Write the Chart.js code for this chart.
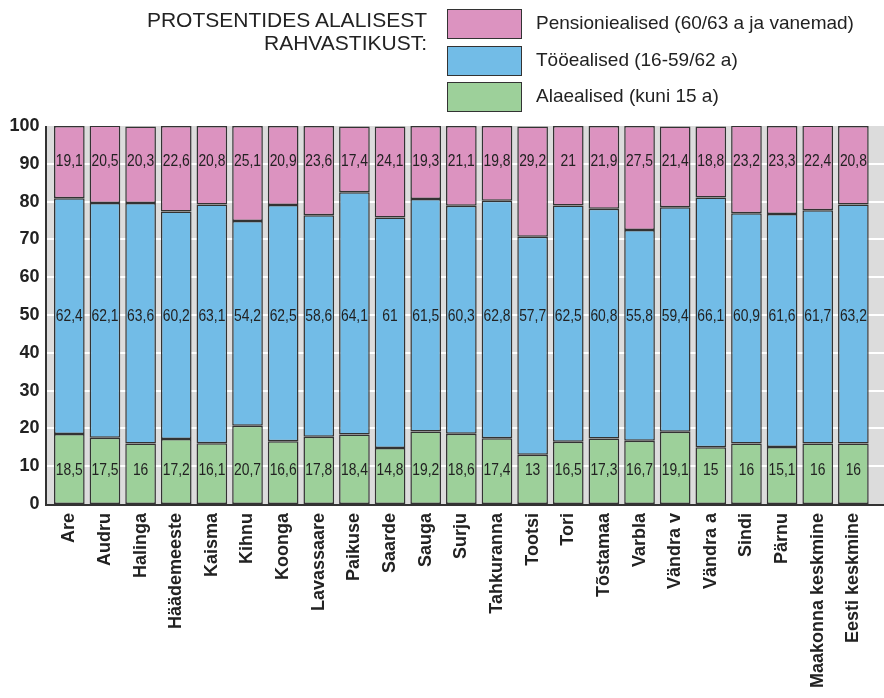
<!DOCTYPE html>
<html>
<head>
<meta charset="utf-8">
<script src="https://cdn.jsdelivr.net/npm/chart.js@4/dist/chart.umd.min.js"></script>
<style>
  body { margin: 0; background: #fff; }
  #wrap { position: relative; width: 884px; height: 698px; font-family: Arial, "Liberation Sans", sans-serif; color: #222; }
  #chart { position: absolute; left: 0; top: 0; }
  .title { position: absolute; right: 457px; top: 8px; font-size: 21px; line-height: 23px; text-align: right; white-space: nowrap; }
  .box { position: absolute; left: 447px; width: 75px; height: 30px; box-sizing: border-box; border: 1.5px solid #333; }
  .lbl { position: absolute; left: 536px; font-size: 19px; line-height: 30px; white-space: nowrap; }
</style>
</head>
<body>
<div id="wrap">
  <canvas id="chart" width="884" height="698"></canvas>
  <div class="title">PROTSENTIDES ALALISEST<br>RAHVASTIKUST:</div>
  <div class="box" style="top:9px;background:#dc93c0"></div>
  <div class="lbl" style="top:8px">Pensioniealised (60/63 a ja vanemad)</div>
  <div class="box" style="top:46px;background:#72bce7"></div>
  <div class="lbl" style="top:45px">Tööealised (16-59/62 a)</div>
  <div class="box" style="top:82px;background:#9dd09a"></div>
  <div class="lbl" style="top:81px">Alaealised (kuni 15 a)</div>
</div>
<script>
const places = ["Are", "Audru", "Halinga", "Häädemeeste", "Kaisma", "Kihnu", "Koonga", "Lavassaare",
  "Paikuse", "Saarde", "Sauga", "Surju", "Tahkuranna", "Tootsi", "Tori", "Tõstamaa", "Varbla",
  "Vändra v", "Vändra a", "Sindi", "Pärnu", "Maakonna keskmine", "Eesti keskmine"];

const minors = [18.5, 17.5, 16, 17.2, 16.1, 20.7, 16.6, 17.8, 18.4, 14.8, 19.2, 18.6, 17.4, 13, 16.5, 17.3, 16.7, 19.1, 15, 16, 15.1, 16, 16];
const working = [62.4, 62.1, 63.6, 60.2, 63.1, 54.2, 62.5, 58.6, 64.1, 61, 61.5, 60.3, 62.8, 57.7, 62.5, 60.8, 55.8, 59.4, 66.1, 60.9, 61.6, 61.7, 63.2];
const pension = [19.1, 20.5, 20.3, 22.6, 20.8, 25.1, 20.9, 23.6, 17.4, 24.1, 19.3, 21.1, 19.8, 29.2, 21, 21.9, 27.5, 21.4, 18.8, 23.2, 23.3, 22.4, 20.8];

const yTicks = [0, 10, 20, 30, 40, 50, 60, 70, 80, 90, 100];

// value labels sit on fixed rows (axis units), one row per series
const labelRows = [9, 49.5, 90.5];

const PLOT_LEFT = 46;

// grey plot background, white grid lines and the two dark axis lines
const plotBack = {
  id: "plotBack",
  beforeDatasetsDraw(chart) {
    const { ctx, chartArea, scales } = chart;
    const y = scales.y;
    ctx.save();
    ctx.fillStyle = "#dcdcdc";
    ctx.fillRect(PLOT_LEFT, chartArea.top, chart.width - PLOT_LEFT, chartArea.bottom - chartArea.top);
    ctx.strokeStyle = "#fff";
    ctx.lineWidth = 2;
    yTicks.forEach(t => {
      if (t === 0 || t === 100) return;
      const py = Math.round(y.getPixelForValue(t));
      ctx.beginPath();
      ctx.moveTo(PLOT_LEFT, py);
      ctx.lineTo(chart.width, py);
      ctx.stroke();
    });
    ctx.restore();
  },
  afterDatasetsDraw(chart) {
    const { ctx, chartArea } = chart;
    ctx.save();
    ctx.strokeStyle = "#333";
    ctx.lineWidth = 2;
    ctx.beginPath();
    ctx.moveTo(PLOT_LEFT, chartArea.top);
    ctx.lineTo(PLOT_LEFT, chartArea.bottom + 1);
    ctx.lineTo(chart.width, chartArea.bottom + 1);
    ctx.stroke();
    ctx.restore();
  }
};

// value labels, squeezed a little like a narrow face
const segLabels = {
  id: "segLabels",
  afterDatasetsDraw(chart) {
    const ctx = chart.ctx;
    const y = chart.scales.y;
    chart.data.datasets.forEach((ds, i) => {
      const py = y.getPixelForValue(labelRows[i]);
      chart.getDatasetMeta(i).data.forEach((bar, j) => {
        ctx.save();
        ctx.translate(bar.x, py);
        ctx.scale(0.84, 1);
        ctx.font = "16.5px Arial, 'Liberation Sans', sans-serif";
        ctx.fillStyle = "#222";
        ctx.textAlign = "center";
        ctx.textBaseline = "middle";
        ctx.fillText(String(ds.data[j]).replace(".", ","), 0, 0);
        ctx.restore();
      });
    });
  }
};

const barStyle = { borderColor: "#333", borderWidth: 1.5, borderSkipped: false, barPercentage: 0.86, categoryPercentage: 1 };

new Chart(document.getElementById("chart"), {
  type: "bar",
  data: {
    labels: places,
    datasets: [
      { label: "Alaealised (kuni 15 a)", data: minors, backgroundColor: "#9dd09a", ...barStyle },
      { label: "Tööealised (16-59/62 a)", data: working, backgroundColor: "#72bce7", ...barStyle },
      { label: "Pensioniealised (60/63 a ja vanemad)", data: pension, backgroundColor: "#dc93c0", ...barStyle }
    ]
  },
  options: {
    responsive: false,
    animation: false,
    devicePixelRatio: 1,
    layout: { padding: { top: 126, right: 1.5, left: 0, bottom: 0 } },
    plugins: { legend: { display: false }, tooltip: { enabled: false } },
    scales: {
      x: {
        stacked: true,
        grid: { display: false, drawTicks: false },
        border: { display: false },
        ticks: {
          autoSkip: false, maxRotation: 90, minRotation: 90, padding: 9,
          color: "#222", font: { family: "Arial, 'Liberation Sans', sans-serif", size: 18, weight: "bold" }
        },
        afterFit(scale) { scale.height = 194; }
      },
      y: {
        stacked: true,
        min: 0, max: 100,
        afterBuildTicks(scale) { scale.ticks = yTicks.map(v => ({ value: v })); },
        grid: { display: false, drawTicks: false },
        border: { display: false },
        ticks: {
          padding: 12,
          color: "#222", font: { family: "Arial, 'Liberation Sans', sans-serif", size: 18, weight: "bold" }
        },
        afterFit(scale) { scale.width = 51.5; }
      }
    }
  },
  plugins: [plotBack, segLabels]
});
</script>
</body>
</html>
